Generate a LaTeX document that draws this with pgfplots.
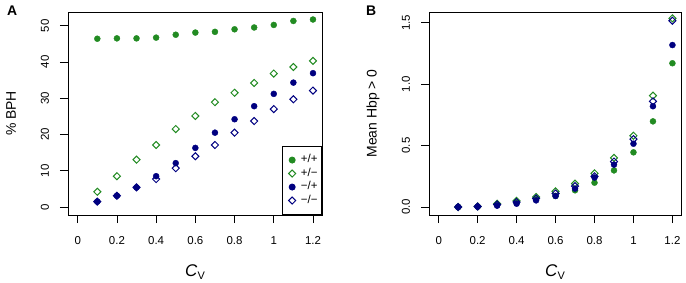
\documentclass[border=0pt]{standalone}
\usepackage{pgfplots}
\pgfplotsset{compat=1.18}
\usepackage{fontspec}
\setmainfont{Liberation Sans}
\definecolor{fgreen}{HTML}{228B22}
\definecolor{navyb}{HTML}{000080}
\pgfplotsset{
  rstyle/.style={
    scale only axis,
    clip mode=individual,
    axis line style={line width=0.9bp},
    tick style={line width=0.8bp, black},
    tick align=outside,
    major tick length=8bp,
    xtick pos=bottom, ytick pos=left,
    xtick={0,0.2,0.4,0.6,0.8,1,1.2},
    xticklabels={0,0.2,0.4,0.6,0.8,1,1.2},
    tick label style={font=\fontsize{11.5}{13}\selectfont},
    /pgf/number format/assume math mode=true,
    yticklabel style={rotate=90, anchor=south},
    xticklabel shift=10bp,
    yticklabel shift=7.5bp,
    xlabel={\fontsize{17}{19}\selectfont\textit{C}\raisebox{-0.35ex}{\fontsize{11}{12}\selectfont V}},
    xlabel style={at={(axis description cs:0.5,-0.28)}, anchor=center},
    ylabel style={font=\fontsize{14}{16}\selectfont, anchor=center},
  },
  limg/.style={legend image code/.code={\path[draw=none,fill=none] (0bp,-3bp) rectangle (14.5bp,3bp); \draw[##1] plot coordinates {(6.7bp,0bp)};}},
  gf/.style={only marks, mark=*, mark size=3bp, fgreen, mark options={fill=fgreen, draw=fgreen}, limg},
  gd/.style={only marks, mark=square, mark size=2.5bp, fgreen, mark options={rotate=45, line width=1bp, draw=fgreen, fill=none}, limg},
  bf/.style={only marks, mark=*, mark size=3bp, navyb, mark options={fill=navyb, draw=navyb}, limg},
  bd/.style={only marks, mark=square, mark size=2.5bp, navyb, mark options={rotate=45, line width=1bp, draw=navyb, fill=none}, limg},
}
\begin{document}
\begin{tikzpicture}
\useasboundingbox (0bp,0bp) rectangle (686bp,283bp);
\begin{axis}[rstyle,
  at={(68bp,68bp)}, anchor=south west, width=254bp, height=203bp,
  xmin=-0.0495, xmax=1.246, ymin=-2.2, ymax=53.77,
  ytick={0,10,20,30,40,50},
  ylabel={\% BPH},
  ylabel style={at={(axis description cs:-0.224,0.5)}},
  legend style={at={(rel axis cs:1,0)}, anchor=south east, draw=black, line width=0.9bp,
    font=\fontsize{11.5}{13}\selectfont, inner xsep=3bp, inner ysep=8bp,
    nodes={inner sep=1bp, text height=7.5bp, text depth=2.5bp}, row sep=1.5bp, column sep=0bp,
    legend cell align=left},
]
\addplot[gf] coordinates {(0.1,46.4)(0.2,46.5)(0.3,46.5)(0.4,46.7)(0.5,47.5)(0.6,48.1)(0.7,48.3)(0.8,49.0)(0.9,49.5)(1.0,50.2)(1.1,51.3)(1.2,51.7)};
\addlegendentry{+/+}
\addplot[gd] coordinates {(0.1,4.2)(0.2,8.5)(0.3,13.05)(0.4,17.1)(0.5,21.5)(0.6,25.1)(0.7,28.9)(0.8,31.5)(0.9,34.2)(1.0,36.8)(1.1,38.6)(1.2,40.3)};
\addlegendentry{+/−}
\addplot[bf] coordinates {(0.1,1.5)(0.2,3.1)(0.3,5.4)(0.4,8.5)(0.5,12.1)(0.6,16.3)(0.7,20.5)(0.8,24.2)(0.9,27.8)(1.0,31.2)(1.1,34.3)(1.2,36.9)};
\addlegendentry{−/+}
\addplot[bd] coordinates {(0.1,1.5)(0.2,3.1)(0.3,5.4)(0.4,7.7)(0.5,10.7)(0.6,14.0)(0.7,17.1)(0.8,20.5)(0.9,23.7)(1.0,27.0)(1.1,29.7)(1.2,32.1)};
\addlegendentry{−/−}
\node[font=\fontsize{14}{16}\selectfont\bfseries] at (axis description cs:-0.22,1.005) {A};
\end{axis}
\begin{axis}[rstyle,
  at={(429bp,68bp)}, anchor=south west, width=252bp, height=203bp,
  xmin=-0.0497, xmax=1.244, ymin=-0.065, ymax=1.587,
  ytick={0,0.5,1,1.5},
  yticklabel style={/pgf/number format/fixed, /pgf/number format/fixed zerofill, /pgf/number format/precision=1},
  ylabel={Mean Hbp > 0},
  ylabel style={at={(axis description cs:-0.222,0.5)}},
]
\addplot[gf] coordinates {(0.1,0)(0.2,0.003)(0.3,0.016)(0.4,0.035)(0.5,0.065)(0.6,0.09)(0.7,0.136)(0.8,0.198)(0.9,0.298)(1.0,0.445)(1.1,0.697)(1.2,1.17)};
\addplot[gd] coordinates {(0.1,0)(0.2,0.005)(0.3,0.027)(0.4,0.05)(0.5,0.081)(0.6,0.127)(0.7,0.19)(0.8,0.274)(0.9,0.40)(1.0,0.58)(1.1,0.906)(1.2,1.535)};
\addplot[bf] coordinates {(0.1,0)(0.2,0.003)(0.3,0.011)(0.4,0.027)(0.5,0.054)(0.6,0.09)(0.7,0.15)(0.8,0.24)(0.9,0.345)(1.0,0.515)(1.1,0.82)(1.2,1.318)};
\addplot[bd] coordinates {(0.1,0)(0.2,0.004)(0.3,0.02)(0.4,0.04)(0.5,0.07)(0.6,0.11)(0.7,0.17)(0.8,0.25)(0.9,0.37)(1.0,0.553)(1.1,0.86)(1.2,1.516)};
\node[font=\fontsize{14}{16}\selectfont\bfseries] at (axis description cs:-0.23,1.005) {B};
\end{axis}
\end{tikzpicture}
\end{document}
